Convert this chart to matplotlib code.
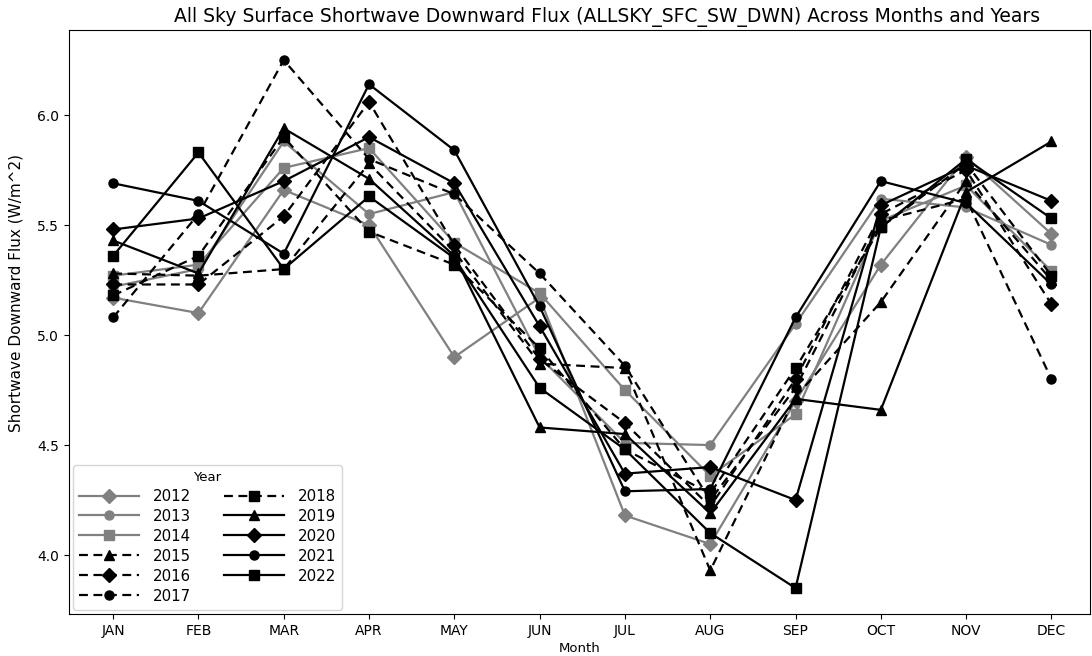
import matplotlib
matplotlib.use("Agg")
import matplotlib.pyplot as plt

months = ['JAN', 'FEB', 'MAR', 'APR', 'MAY', 'JUN', 'JUL', 'AUG', 'SEP', 'OCT', 'NOV', 'DEC']
years = [2012, 2013, 2014, 2015, 2016, 2017, 2018, 2019, 2020, 2021, 2022]

# valeurs (W/m^2)
flux_2012 = [5.17, 5.10, 5.66, 5.50, 4.90, 5.17, 4.18, 4.05, 4.70, 5.32, 5.81, 5.46]
flux_2013 = [5.22, 5.30, 5.88, 5.55, 5.65, 4.90, 4.51, 4.50, 5.05, 5.62, 5.58, 5.41]
flux_2014 = [5.27, 5.32, 5.76, 5.85, 5.42, 5.19, 4.75, 4.36, 4.64, 5.52, 5.68, 5.29]
flux_2015 = [5.28, 5.27, 5.30, 5.78, 5.38, 4.87, 4.85, 3.93, 4.72, 5.15, 5.70, 5.25]
flux_2016 = [5.23, 5.23, 5.54, 6.06, 5.41, 4.89, 4.60, 4.22, 4.80, 5.55, 5.75, 5.14]
flux_2017 = [5.08, 5.55, 6.25, 5.80, 5.64, 5.28, 4.86, 4.25, 4.76, 5.52, 5.62, 4.80]
flux_2018 = [5.18, 5.36, 5.90, 5.47, 5.32, 4.94, 4.48, 4.28, 4.85, 5.49, 5.78, 5.27]
flux_2019 = [5.43, 5.28, 5.94, 5.71, 5.36, 4.58, 4.55, 4.19, 4.71, 4.66, 5.65, 5.88]
flux_2020 = [5.48, 5.53, 5.70, 5.90, 5.69, 5.04, 4.37, 4.40, 4.25, 5.59, 5.77, 5.61]
flux_2021 = [5.69, 5.61, 5.37, 6.14, 5.84, 5.13, 4.29, 4.30, 5.08, 5.70, 5.60, 5.23]
flux_2022 = [5.36, 5.83, 5.30, 5.63, 5.35, 4.76, 4.48, 4.10, 3.85, 5.49, 5.80, 5.53]

series = [flux_2012, flux_2013, flux_2014, flux_2015, flux_2016, flux_2017,
          flux_2018, flux_2019, flux_2020, flux_2021, flux_2022]

# style de chaque année : couleur, marqueur, tirets
styles = {
    2012: ('gray', 'D', False),
    2013: ('gray', 'o', False),
    2014: ('gray', 's', False),
    2015: ('black', '^', True),
    2016: ('black', 'D', True),
    2017: ('black', 'o', True),
    2018: ('black', 's', True),
    2019: ('black', '^', False),
    2020: ('black', 'D', False),
    2021: ('black', 'o', False),
    2022: ('black', 's', False),
}

fig = plt.figure(figsize=(10.92, 6.56), dpi=100)
ax = fig.add_axes([0.063, 0.064, 0.935, 0.890])

x = list(range(len(months)))
for annee, vals in zip(years, series):
    col, mk, dash = styles[annee]
    ms = 7 if mk == 'D' else 6.5
    line, = ax.plot(x, vals, color=col, marker=mk, markersize=ms, lw=1.6,
                    label=str(annee))
    if dash:
        line.set_dashes((4, 2.5))

ax.set_xticks(x)
ax.set_xticklabels(months, fontsize=10)
ax.set_yticks([4.0, 4.5, 5.0, 5.5, 6.0])
ax.tick_params(axis='y', labelsize=10)
ax.set_xlim(-0.52, 11.45)
ax.set_ylim(3.732, 6.386)

ax.set_title('All Sky Surface Shortwave Downward Flux (ALLSKY_SFC_SW_DWN) Across Months and Years',
             fontsize=13.5, pad=6, x=0.527)
ax.set_xlabel('Month', fontsize=9.5, labelpad=3)
ax.set_ylabel('Shortwave Downward Flux (W/m^2)', fontsize=11)
ax.yaxis.set_label_coords(-0.044, 0.55)

leg = ax.legend(title='Year', ncol=2, loc='lower left', fontsize=10.8,
                title_fontsize=9.5, handlelength=4.0, handletextpad=0.9,
                columnspacing=2.2, labelspacing=0.33, borderaxespad=0.3)

fig.savefig('out.png', dpi=100)
